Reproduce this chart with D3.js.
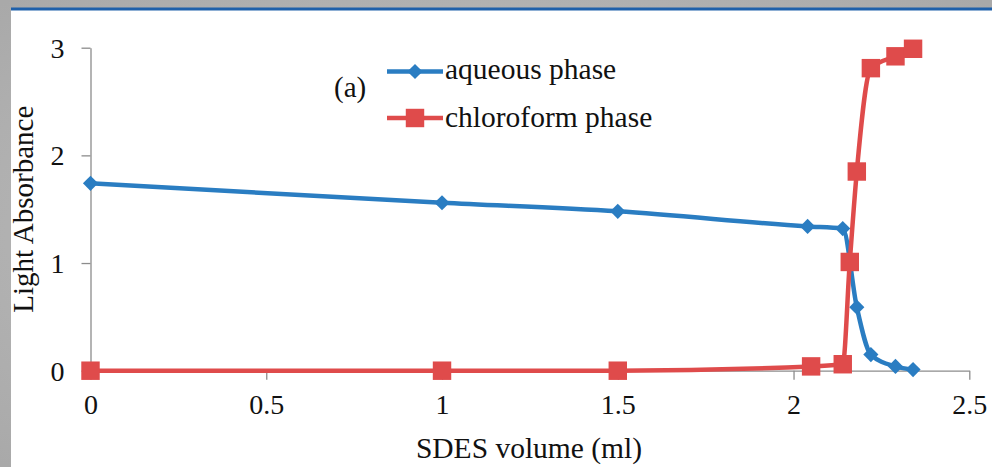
<!DOCTYPE html>
<html>
<head>
<meta charset="utf-8">
<script src="https://cdn.jsdelivr.net/npm/d3@7"></script>
<style>
  html, body { margin: 0; padding: 0; background: #b3b3b3; }
  svg { display: block; }
</style>
</head>
<body>
<svg id="chart" width="992" height="467"></svg>
<script>
// ---- data ----
const aqueousVolumes    = [0, 1, 1.5, 2.04, 2.14, 2.18, 2.22, 2.29, 2.34];
const aqueousValues     = [1.74, 1.56, 1.48, 1.34, 1.32, 0.59, 0.15, 0.04, 0.01];
const chloroformVolumes = [0, 1, 1.5, 2.05, 2.14, 2.16, 2.18, 2.22, 2.29, 2.34];
const chloroformValues  = [0, 0, 0, 0.04, 0.06, 1.01, 1.85, 2.81, 2.92, 2.99];
const xTicks = [0, 0.5, 1, 1.5, 2, 2.5];
const yTicks = [0, 1, 2, 3];
const seriesNames = ["aqueous phase", "chloroform phase"];
const xTitle = "SDES volume (ml)";
const yTitle = "Light Absorbance";
const panelLabel = "(a)";

const blue = "#2a7dc2", red = "#df4b4b";
const FONT = "'Liberation Serif', 'Times New Roman', serif";

const svg = d3.select("#chart");

// background frame
const defs = svg.append("defs");
const grad = defs.append("radialGradient").attr("id", "bg").attr("cx", "50%").attr("cy", "50%").attr("r", "70%");
grad.append("stop").attr("offset", "0%").attr("stop-color", "#c4c4c4");
grad.append("stop").attr("offset", "100%").attr("stop-color", "#a9a9a9");
svg.append("rect").attr("width", 992).attr("height", 467).attr("fill", "url(#bg)");
svg.append("rect").attr("x", 11).attr("y", 10).attr("width", 981).attr("height", 457).attr("fill", "#ffffff");
svg.append("rect").attr("x", 11).attr("y", 7.5).attr("width", 981).attr("height", 3).attr("fill", "#1f60aa");

// scales
const x = d3.scaleLinear().domain([0, 2.5]).range([90.5, 969.3]);
const y = d3.scaleLinear().domain([0, 3]).range([370.7, 47.7]);

const axisColor = "#8c8c8c";

// y axis
const yAxis = svg.append("g").attr("transform", `translate(${x(0)},0)`)
  .call(d3.axisLeft(y).tickValues(yTicks).tickFormat(d3.format("d")).tickSizeInner(9).tickSizeOuter(0).tickPadding(17));
yAxis.attr("font-family", FONT).attr("font-size", 28);
yAxis.select(".domain").attr("stroke", axisColor).attr("stroke-width", 1.3);
yAxis.selectAll(".tick line").attr("stroke", axisColor).attr("stroke-width", 1.3);
yAxis.selectAll(".tick text").attr("fill", "#111").attr("dy", "0.34em");

// x axis
const xAxis = svg.append("g").attr("transform", `translate(0,${y(0)})`)
  .call(d3.axisBottom(x).tickValues(xTicks).tickFormat(d => d3.format("")(d)).tickSizeInner(9).tickSizeOuter(0).tickPadding(14));
xAxis.attr("font-family", FONT).attr("font-size", 28);
xAxis.select(".domain").attr("stroke", axisColor).attr("stroke-width", 1.3);
xAxis.selectAll(".tick line").attr("stroke", axisColor).attr("stroke-width", 1.3);
xAxis.selectAll(".tick text").attr("fill", "#111").attr("dy", "0.71em");

// titles
svg.append("text").attr("x", 529).attr("y", 458).attr("text-anchor", "middle")
  .attr("font-family", FONT).attr("font-size", 29.5).attr("fill", "#111").text(xTitle);
svg.append("text").attr("transform", `translate(33,${(y(0) + y(3)) / 2}) rotate(-90)`).attr("text-anchor", "middle")
  .attr("font-family", FONT).attr("font-size", 29).attr("fill", "#111").text(yTitle);
svg.append("text").attr("x", 334).attr("y", 97).attr("font-family", FONT).attr("font-size", 29).attr("fill", "#111").text(panelLabel);

// series
const line = d3.line().curve(d3.curveMonotoneX).x(d => x(d[0])).y(d => y(d[1]));
const aqData = d3.zip(aqueousVolumes, aqueousValues);
const chData = d3.zip(chloroformVolumes, chloroformValues);

const diamond = d3.symbol().type(d3.symbolSquare).size(115)();
const square = d3.symbol().type(d3.symbolSquare).size(340)();

svg.append("path").datum(aqData).attr("d", line).attr("fill", "none").attr("stroke", blue).attr("stroke-width", 4.5).attr("stroke-linejoin", "round");
svg.append("g").selectAll("path").data(aqData).join("path")
  .attr("d", diamond).attr("fill", blue)
  .attr("transform", d => `translate(${x(d[0])},${y(d[1])}) rotate(45)`);

svg.append("path").datum(chData).attr("d", line).attr("fill", "none").attr("stroke", red).attr("stroke-width", 4.5).attr("stroke-linejoin", "round");
svg.append("g").selectAll("path").data(chData).join("path")
  .attr("d", square).attr("fill", red)
  .attr("transform", d => `translate(${x(d[0])},${y(d[1])})`);

// legend
const legend = svg.append("g");
const rows = [{name: seriesNames[0], color: blue, sym: diamond, rot: 45, ly: 71.5, ty: 79},
              {name: seriesNames[1], color: red, sym: square, rot: 0, ly: 118, ty: 127}];
rows.forEach(r => {
  legend.append("line").attr("x1", 387).attr("x2", 443).attr("y1", r.ly).attr("y2", r.ly)
    .attr("stroke", r.color).attr("stroke-width", 4.5);
  legend.append("path").attr("d", r.sym).attr("fill", r.color)
    .attr("transform", `translate(415,${r.ly}) rotate(${r.rot})`);
  legend.append("text").attr("x", 445).attr("y", r.ty).attr("font-family", FONT).attr("font-size", 29.5)
    .attr("fill", "#111").text(r.name);
});
</script>
</body>
</html>
